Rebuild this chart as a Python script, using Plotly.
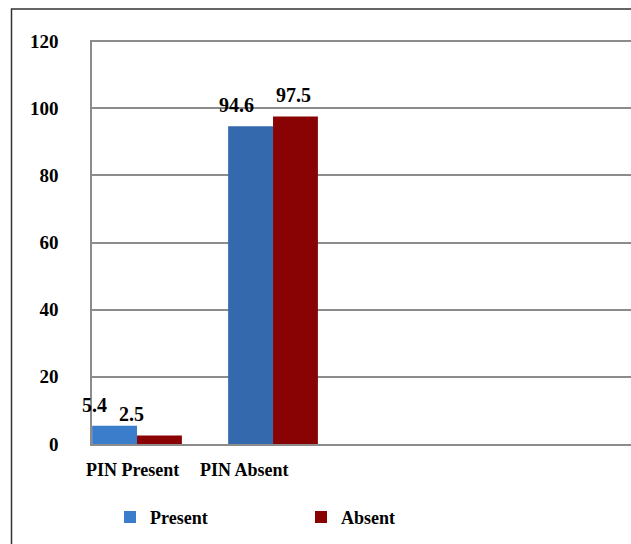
import plotly.graph_objects as go

categories = ["PIN Present", "PIN Absent"]
present_vals = [5.4, 94.6]
absent_vals = [2.5, 97.5]
y_ticks = [0, 20, 40, 60, 80, 100, 120]

BLUE = ["#3B7CCB", "#3469AE"]
RED = "#8A0304"
FONT = "Liberation Serif"
GRID = "#8C8C8C"

W, H = 631, 544
L, R, T, B = 92, 0, 41, 100
pw, ph = W - L - R, H - T - B

fig = go.Figure()
fig.add_trace(go.Bar(name="Present", x=categories, y=present_vals,
                     marker=dict(color=BLUE, line=dict(width=0))))
fig.add_trace(go.Bar(name="Absent", x=categories, y=absent_vals,
                     marker=dict(color=RED, line=dict(width=0))))

# data labels
label_shift_present = [-20, -14]
label_shift_absent = [-28, -2]
for i, c in enumerate(categories):
    fig.add_annotation(x=i - 0.165, y=present_vals[i], xref="x", yref="y",
                       text=f"{present_vals[i]}", showarrow=False,
                       xshift=label_shift_present[i], yshift=21, yanchor="middle",
                       font=dict(family=FONT, size=20, color="black", weight="bold"))
    fig.add_annotation(x=i + 0.165, y=absent_vals[i], xref="x", yref="y",
                       text=f"{absent_vals[i]}", showarrow=False,
                       xshift=label_shift_absent[i], yshift=22, yanchor="middle",
                       font=dict(family=FONT, size=20, color="black", weight="bold"))

# category labels
cat_shift = [-5, -29]
for i, c in enumerate(categories):
    fig.add_annotation(x=i, y=0, xref="x", yref="y", text=c, showarrow=False,
                       xshift=cat_shift[i], yshift=-26, yanchor="middle",
                       font=dict(family=FONT, size=18, color="black", weight="bold"))

# outer chart border
fig.add_shape(type="rect", xref="paper", yref="paper",
              x0=(11.5 - L) / pw, x1=1.05, y0=-0.3, y1=(H - B - 10) / ph,
              line=dict(color="#333333", width=1.5), fillcolor="rgba(0,0,0,0)", layer="below")

fig.update_layout(
    width=W, height=H,
    margin=dict(l=L, r=R, t=T - 1, b=B, pad=0),
    paper_bgcolor="white", plot_bgcolor="white",
    barmode="group", bargap=0.34, bargroupgap=0,
    font=dict(family=FONT, size=18, color="black"),
    showlegend=True,
    legend=dict(orientation="h", xref="paper", yref="paper",
                x=(110 - L) / pw, y=(H - B - 517) / ph, xanchor="left", yanchor="middle",
                itemwidth=30, entrywidth=146, entrywidthmode="pixels",
                font=dict(family=FONT, size=18, color="black", weight="bold"),
                bgcolor="rgba(0,0,0,0)", traceorder="normal"),
    xaxis=dict(type="category", range=[-0.331, 3.632], showticklabels=False,
               showgrid=False, zeroline=False, showline=True, linecolor=GRID, linewidth=1.5,
               ticks=""),
    yaxis=dict(range=[0, 120.3], tickvals=y_ticks, showgrid=True, gridcolor=GRID, gridwidth=1.5,
               zeroline=False, showline=True, linecolor=GRID, linewidth=1.5,
               ticks="", ticklabelstandoff=28,
               tickfont=dict(family=FONT, size=19, color="black", weight="bold")),
)

fig.write_html("out.html", config={"displayModeBar": False},
               post_script="document.body.style.margin='0';document.body.style.overflow='hidden';")
